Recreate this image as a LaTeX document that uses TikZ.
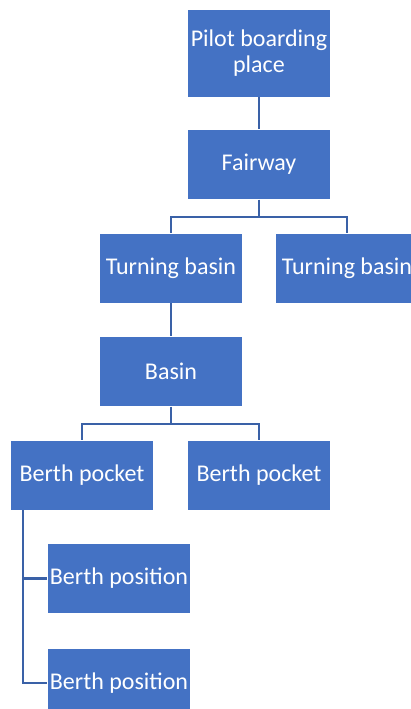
\documentclass[tikz,border=0pt]{standalone}
\usepackage{fontspec}
\setmainfont{Carlito}
\usepackage{tikz}
\definecolor{boxblue}{RGB}{68,114,196}
\definecolor{lineblue}{RGB}{58,97,167}

\begin{document}
\begin{tikzpicture}[x=0.5pt,y=-0.5pt]
   \tikzstyle{every node}=[draw=white, line width=0.4pt, fill=boxblue, text=white, minimum width=71.5pt, minimum height=35pt, inner sep=0pt, align=center, font=\fontsize{12}{13}\selectfont]
   \tikzstyle{link}=[draw=lineblue, line width=1.25pt]

\useasboundingbox (0,0) rectangle (411,709);
\clip (0,0) rectangle (411,709);

\node (pilot) at (259,53) [minimum height=44pt] {Pilot boarding\\place};
\node (fairway) at (259,164.5) {Fairway};
\node (turn1) at (171,268) {Turning basin};
\node (turn2) at (347,268) {Turning basin};
\node (basin) at (171,371.5) {Basin};
\node (pocket1) at (82,475) {Berth pocket};
\node (pocket2) at (259,475) {Berth pocket};
\node (pos1) at (119,578.5) {Berth position};
\node (pos2) at (119,683) {Berth position};

\draw[link] (pilot) -- (fairway);
\draw[link] (fairway.south) -- ++(0,17) -| (turn1.north);
\draw[link] (fairway.south) -- ++(0,17) -| (turn2.north);
\draw[link] (turn1) -- (basin);
\draw[link] (basin.south) -- ++(0,17) -| (pocket1.north);
\draw[link] (basin.south) -- ++(0,17) -| (pocket2.north);
\draw[link] ([xshift=6.5pt]pocket1.south west) |- (pos1.west);
\draw[link] ([xshift=6.5pt]pocket1.south west) |- (pos2.west);

\end{tikzpicture}
\end{document}
